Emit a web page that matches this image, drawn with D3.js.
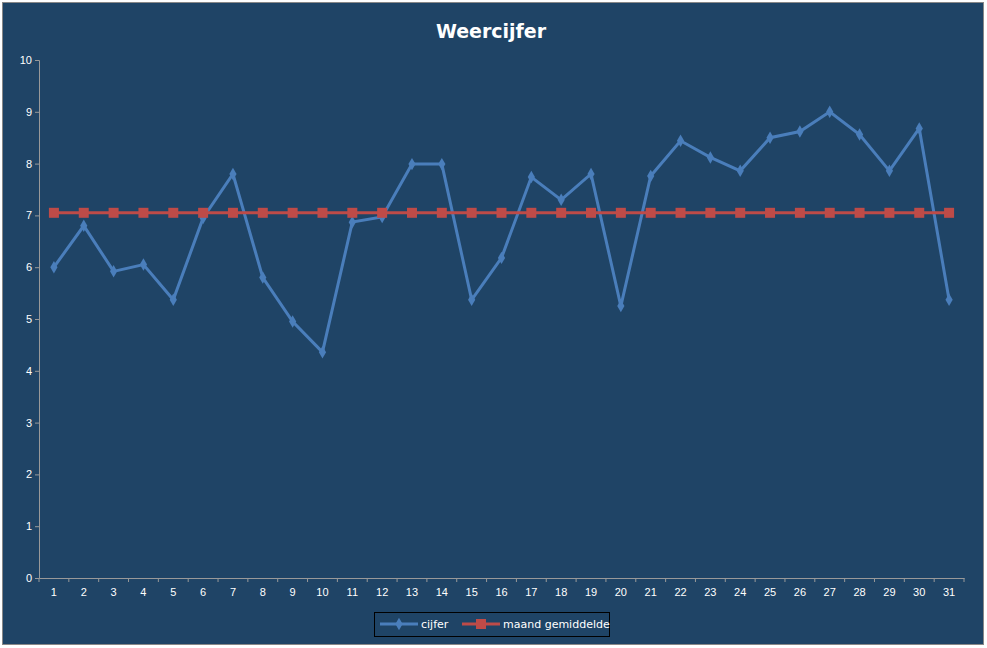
<!DOCTYPE html><html><head><script src="https://cdn.jsdelivr.net/npm/d3@7"></script>
<style>body{margin:0;background:#fff}svg{font-family:"DejaVu Sans",sans-serif}</style></head><body>
<svg id="c" width="987" height="648"></svg>
<script>
const days=d3.range(1,32);
const cijfer=[6.0,6.8,5.92,6.05,5.37,6.95,7.8,5.8,4.95,4.36,6.87,6.97,7.99,7.99,5.37,6.18,7.74,7.3,7.8,5.25,7.76,8.44,8.12,7.86,8.5,8.62,9.0,8.56,7.86,8.68,5.37];
const gem=days.map(()=>7.05);
const yTicks=d3.range(0,11);
const svg=d3.select("#c");
svg.append("rect").attr("x",2.5).attr("y",2.5).attr("width",981).attr("height",642).attr("fill","#1F4466").attr("stroke","#888");
svg.append("text").attr("x",491).attr("y",38).attr("text-anchor","middle").attr("fill","#fff").attr("font-size",19).attr("font-weight","bold").text("Weercijfer");
const L=39,R=964,T=60,B=578;
const x=d3.scaleBand().domain(days).range([L,R]);
const y=d3.scaleLinear().domain([0,10]).range([B,T]);
const ya=svg.append("g").attr("transform",`translate(${L},0)`).call(d3.axisLeft(y).tickValues(yTicks).tickSize(4));
const xa=svg.append("g").attr("transform",`translate(0,${B})`).call(d3.axisBottom(x).tickSize(0).tickPadding(10));
[ya,xa].forEach(a=>{a.select(".domain").attr("stroke","#999");a.selectAll("line").attr("stroke","#999");a.selectAll("text").attr("fill","#fff").attr("font-size",11);});
ya.selectAll(".tick line").attr("x1",-4).attr("x2",0);
svg.append("g").selectAll("line").data(d3.range(0,32)).join("line").attr("x1",i=>L+i*x.step()).attr("x2",i=>L+i*x.step()).attr("y1",B).attr("y2",B+4).attr("stroke","#999");
const cx=d=>x(d)+x.bandwidth()/2;
const line=d3.line().x((d,i)=>cx(days[i])).y(d=>y(d));
svg.append("path").attr("d",line(cijfer)).attr("fill","none").attr("stroke","#4A7EBB").attr("stroke-width",3);
svg.append("g").selectAll("path").data(cijfer).join("path").attr("d",d3.symbol(d3.symbolDiamond,45)).attr("transform",(d,i)=>`translate(${cx(days[i])},${y(d)})`).attr("fill","#4A7EBB");
svg.append("path").attr("d",line(gem)).attr("fill","none").attr("stroke","#BE4B48").attr("stroke-width",3);
svg.append("g").selectAll("rect").data(gem).join("rect").attr("x",(d,i)=>cx(days[i])-5).attr("y",d=>y(d)-5).attr("width",10).attr("height",10).attr("fill","#BE4B48");
const lg=svg.append("g");
lg.append("rect").attr("x",374.5).attr("y",612.5).attr("width",235).attr("height",24).attr("fill","none").attr("stroke","#000");
lg.append("line").attr("x1",380).attr("x2",418).attr("y1",624).attr("y2",624).attr("stroke","#4A7EBB").attr("stroke-width",3);
lg.append("path").attr("d",d3.symbol(d3.symbolDiamond,45)).attr("transform","translate(399,624)").attr("fill","#4A7EBB");
lg.append("text").attr("x",421).attr("y",628).attr("fill","#fff").attr("font-size",11).text("cijfer");
lg.append("line").attr("x1",462).attr("x2",500).attr("y1",624).attr("y2",624).attr("stroke","#BE4B48").attr("stroke-width",3);
lg.append("rect").attr("x",476).attr("y",619).attr("width",10).attr("height",10).attr("fill","#BE4B48");
lg.append("text").attr("x",503).attr("y",628).attr("fill","#fff").attr("font-size",11).text("maand gemiddelde");
</script></body></html>
